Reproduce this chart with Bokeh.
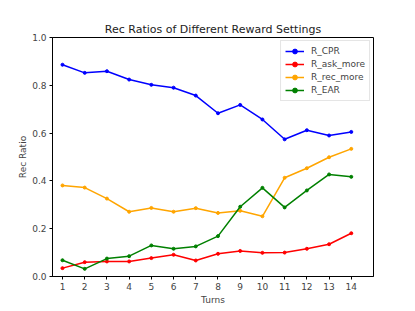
from bokeh.plotting import figure
from bokeh.models import Range1d, FixedTicker, Legend, LegendItem
from bokeh.embed import file_html
from bokeh.resources import INLINE

turns = list(range(1, 15))
r_cpr = [0.886, 0.852, 0.859, 0.824, 0.802, 0.790, 0.757, 0.683, 0.718, 0.657, 0.574, 0.612, 0.590, 0.605]
r_ask_more = [0.035, 0.060, 0.063, 0.063, 0.077, 0.091, 0.067, 0.095, 0.107, 0.099, 0.100, 0.116, 0.135, 0.181]
r_rec_more = [0.381, 0.372, 0.326, 0.271, 0.287, 0.271, 0.286, 0.266, 0.275, 0.252, 0.413, 0.453, 0.499, 0.534]
r_ear = [0.068, 0.032, 0.075, 0.085, 0.130, 0.116, 0.126, 0.169, 0.292, 0.371, 0.289, 0.360, 0.427, 0.417]

series = [
    ("R_CPR", r_cpr, "blue"),
    ("R_ask_more", r_ask_more, "red"),
    ("R_rec_more", r_rec_more, "orange"),
    ("R_EAR", r_ear, "green"),
]

FONT = "DejaVu Sans"

p = figure(width=407, height=309, output_backend="svg", toolbar_location=None,
           x_range=Range1d(0.55, 15.0), y_range=Range1d(0, 1.0),
           title="Rec Ratios of Different Reward Settings",
           min_border_left=52, min_border_right=34, min_border_top=37, min_border_bottom=33)

p.title.align = "center"
p.title.text_font = FONT
p.title.text_font_size = "11px"
p.title.text_font_style = "normal"
p.title.text_color = "#222222"
p.title.standoff = 4

p.outline_line_color = "black"
p.outline_line_width = 1
p.xgrid.visible = False
p.ygrid.visible = False

p.xaxis.ticker = FixedTicker(ticks=turns)
p.yaxis.ticker = FixedTicker(ticks=[0.0, 0.2, 0.4, 0.6, 0.8, 1.0])
p.yaxis.major_label_overrides = {0: "0.0", 0.2: "0.2", 0.4: "0.4", 0.6: "0.6", 0.8: "0.8", 1: "1.0"}
p.xaxis.axis_label = "Turns"
p.yaxis.axis_label = "Rec Ratio"
for ax in (p.xaxis, p.yaxis):
    ax.axis_label_text_font = FONT
    ax.axis_label_text_font_size = "9px"
    ax.axis_label_text_font_style = "normal"
    ax.major_label_text_font = FONT
    ax.major_label_text_font_size = "9px"
    ax.major_tick_out = 3
    ax.major_tick_in = 0
    ax.minor_tick_line_color = None
    ax.major_label_standoff = 3
    ax.axis_line_color = "black"
p.xaxis.axis_label_standoff = 2
p.yaxis.axis_label_standoff = 1

items = []
for name, vals, color in series:
    l = p.line(turns, vals, line_color=color, line_width=1.5)
    s = p.scatter(turns, vals, size=3, fill_color=color, line_color=color)
    items.append(LegendItem(label=name, renderers=[l, s]))

legend = Legend(items=items, location="top_right")
legend.label_text_font = FONT
legend.label_text_font_size = "9px"
legend.border_line_color = "#cccccc"
legend.border_line_width = 1
legend.background_fill_alpha = 0.8
legend.glyph_width = 19
legend.glyph_height = 12
legend.label_height = 12
legend.spacing = 1
legend.padding = 4
legend.margin = 3
legend.label_standoff = 7
p.add_layout(legend)

open("out.html", "w").write(file_html(p, INLINE))
